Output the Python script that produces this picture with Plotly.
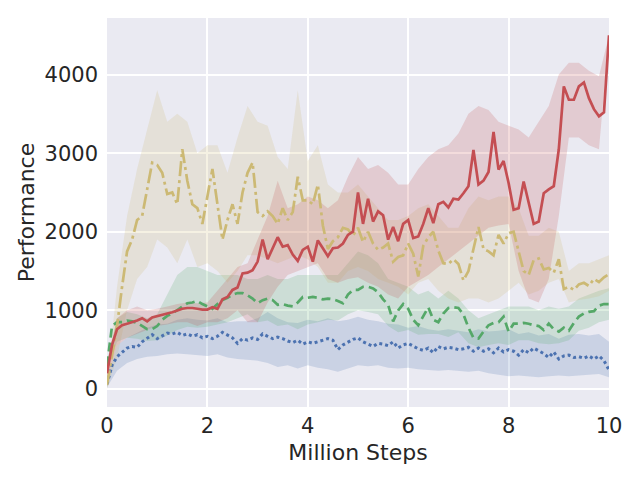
import plotly.graph_objects as go

# ---------------- data ----------------
STEPS = [i / 10 for i in range(101)]          # million steps, mean curves
BAND_STEPS = [i / 5 for i in range(51)]       # million steps, shaded bands

red_mean = [200, 560, 760, 810, 830, 850, 870, 900, 860, 910,
            930, 945, 960, 975, 1000, 1020, 1030, 1030, 1020, 1010,
            1010, 1040, 1020, 1140, 1170, 1260, 1290, 1470, 1480, 1510,
            1620, 1900, 1650, 1790, 1930, 1810, 1830, 1710, 1630, 1770,
            1810, 1620, 1890, 1790, 1690, 1790, 1800, 1850, 1960, 2000,
            2500, 2100, 2420, 2130, 2260, 2210, 1900, 2060, 1880, 2100,
            2150, 1920, 1940, 2100, 2300, 2110, 2350, 2380, 2310, 2420,
            2410, 2490, 2580, 3040, 2600, 2650, 2760, 3270, 2790, 2900,
            2620, 2280, 2300, 2640, 2360, 2100, 2130, 2490, 2540, 2580,
            3050, 3850, 3680, 3680, 3850, 3900, 3700, 3560, 3470, 3520,
            4500]
red_upper = [300, 900, 1000, 1050, 1000, 1020, 1050, 1080, 1100, 1090,
             1100, 1250, 1400, 1550, 1600, 1900, 2200, 2650, 2300, 2350,
             2450, 2400, 2300, 2400, 2700, 2950, 2800, 2850, 2750, 2600,
             2600, 2800, 2950, 3050, 3100, 3250, 3500, 3600, 3550, 3400,
             3350, 3300, 3200, 3400, 3600, 4000, 4150, 4150, 4050, 3980,
             4500]
red_lower = [100, 550, 650, 700, 750, 800, 820, 850, 850, 800,
             850, 850, 900, 1000, 850, 850, 1100, 1300, 1450, 1500,
             1550, 1600, 1400, 1350, 1400, 1420, 1350, 1300, 1200, 1150,
             1300, 1380, 1450, 1550, 1650, 1750, 1850, 1950, 2050, 2080,
             2100, 1500, 1150, 1100, 1400, 2200, 3200, 3200, 3100, 3050,
             4500]

yellow_mean = [50, 400, 800, 1300, 1750, 1900, 2150, 2200, 2550, 2880,
               2850, 2750, 2480, 2500, 2350, 3050, 2650, 2350, 2300, 2100,
               2450, 2800, 2350, 1900, 2150, 2350, 2100, 2500, 2750, 2880,
               2250, 2200, 2260, 2200, 2100, 2300, 2150, 2250, 2700, 2400,
               2400, 2350, 2600, 2080, 1780, 1880, 1930, 2050, 2030, 1950,
               2050, 1870, 2000, 1850, 1770, 1800, 1850, 1620, 1680, 1700,
               1850, 1720, 1430, 1820, 1930, 2000, 1760, 1600, 1590, 1650,
               1590, 1380, 1500, 1800, 2060, 1780, 1750, 1700, 1960, 1850,
               1980, 2000, 1750, 1500, 1450, 1640, 1660, 1520, 1540, 1480,
               1650, 1270, 1300, 1260, 1330, 1350, 1310, 1400, 1360, 1420,
               1460]
yellow_upper = [100, 1300, 2200, 2800, 3300, 3800, 3400, 3500, 3400, 3000,
                3100, 3100, 2750, 3200, 3600, 3400, 3350, 2950, 2800, 3800,
                2900, 3100, 2600, 2500, 2500, 2600, 2450, 2300, 2150, 2150,
                2200, 2300, 2350, 2200, 2050, 2050, 2300, 2450, 2400, 2450,
                2450, 2300, 1950, 1950, 2050, 2000, 1500, 1600, 1600, 1650,
                1700]
yellow_lower = [0, 400, 1000, 1400, 1550, 1900, 1800, 1600, 1900, 1550,
                1600, 1500, 1350, 1500, 1700, 1700, 1650, 1600, 1650, 1700,
                1650, 1550, 1350, 1350, 1500, 1550, 1500, 1400, 1350, 1300,
                1200, 1350, 1400, 1250, 1150, 1100, 1150, 1150, 1100, 1150,
                1250, 1350, 1200, 1250, 1350, 1400, 1100, 1130, 1150, 1180,
                1250]

green_mean = [300, 800, 850, 850, 870, 860, 840, 800, 760, 760,
              800, 880, 930, 960, 1000, 1040, 1090, 1100, 1120, 1080,
              1050, 1020, 1080, 1130, 1160, 1200, 1220, 1220, 1190, 1150,
              1090, 1130, 1150, 1130, 1070, 1080, 1060, 1050, 1100, 1170,
              1160, 1170, 1160, 1140, 1150, 1140, 1120, 1090, 1200, 1260,
              1260, 1300, 1300, 1280, 1230, 1140, 1070, 860, 1000, 1080,
              1020, 880, 810, 920, 1040, 880, 850, 960, 1030, 1040,
              1030, 950, 780, 650, 640, 730, 810, 840, 850, 920,
              730, 830, 830, 840, 830, 810, 800, 750, 830, 760,
              730, 780, 740, 840, 920, 960, 980, 990, 1060, 1080,
              1080]
green_upper = [350, 900, 980, 950, 900, 950, 1200, 1450, 1550, 1550,
               1500, 1450, 1450, 1450, 1400, 1400, 1450, 1400, 1400, 1450,
               1450, 1450, 1450, 1450, 1600, 1750, 1700, 1600, 1400, 1350,
               1300, 1200, 1250, 1150, 1250, 1150, 1000, 900, 950, 1000,
               1050, 1050, 1050, 1000, 1050, 1020, 1050, 1150, 1200, 1250,
               1280]
green_lower = [250, 600, 650, 640, 610, 620, 680, 750, 790, 780,
               790, 820, 850, 900, 950, 850, 870, 800, 820, 760,
               820, 850, 880, 870, 950, 1000, 980, 950, 800, 720,
               750, 690, 700, 700, 660, 720, 580, 530, 560, 580,
               560, 620, 620, 580, 570, 580, 620, 740, 780, 850,
               880]

blue_mean = [60, 300, 410, 470, 520, 540, 530, 600, 650, 690,
             640, 680, 710, 700, 720, 680, 700, 670, 690, 650,
             670, 640, 670, 720, 690, 650, 580, 640, 620, 650,
             630, 700, 670, 640, 660, 640, 610, 590, 620, 570,
             600, 580, 600, 620, 640, 620, 500, 560, 600, 630,
             650, 600, 570, 540, 580, 570, 550, 600, 520, 560,
             580, 540, 510, 490, 520, 460, 540, 510, 530, 520,
             500, 510, 530, 480, 520, 480, 510, 460, 520, 470,
             500, 480, 430, 500, 460, 520, 490, 450, 400, 470,
             380, 420, 430, 400, 410, 390, 420, 380, 420, 360,
             240]
blue_upper = [100, 550, 650, 720, 780, 820, 830, 880, 900, 880,
              870, 900, 850, 860, 860, 900, 980, 900, 850, 840,
              880, 860, 900, 860, 880, 920, 880, 860, 830, 820,
              780, 800, 760, 740, 760, 740, 720, 760, 730, 740,
              760, 700, 720, 680, 700, 640, 690, 700, 680, 700,
              600]
blue_lower = [20, 230, 330, 380, 410, 420, 440, 450, 440, 430,
              420, 440, 400, 380, 370, 360, 330, 280, 300, 260,
              300, 270, 250, 220, 260, 300, 290, 300, 270, 260,
              270, 250, 240, 230, 240, 230, 220, 230, 200, 180,
              160, 170, 160, 150, 160, 170, 160, 170, 180, 190,
              150]

X_TICKS = [0, 2, 4, 6, 8, 10]
Y_TICKS = [0, 1000, 2000, 3000, 4000]
X_LABEL = "Million Steps"
Y_LABEL = "Performance"

# ---------------- styling ----------------
series = [
    # name, mean, lower, upper, colour rgb, dash, width
    ("blue", blue_mean, blue_lower, blue_upper, (76, 114, 176), "3px,3px", 3),
    ("green", green_mean, green_lower, green_upper, (85, 168, 104), "9px,5px", 2.7),
    ("yellow", yellow_mean, yellow_lower, yellow_upper, (204, 185, 116), "15px,4px,3px,4px", 2.7),
    ("red", red_mean, red_lower, red_upper, (196, 78, 82), "solid", 2.7),
]

fig = go.Figure()

# shaded bands first
for name, mean, lo, hi, rgb, dash, w in series:
    fill = "rgba(%d,%d,%d,0.2)" % rgb
    fig.add_trace(go.Scatter(x=BAND_STEPS, y=lo, mode="lines",
                             line=dict(width=0, color=fill),
                             showlegend=False, hoverinfo="skip"))
    fig.add_trace(go.Scatter(x=BAND_STEPS, y=hi, mode="lines",
                             line=dict(width=0, color=fill),
                             fill="tonexty", fillcolor=fill,
                             showlegend=False, hoverinfo="skip"))

# mean curves on top
for name, mean, lo, hi, rgb, dash, w in series:
    fig.add_trace(go.Scatter(x=STEPS, y=mean, mode="lines", name=name,
                             line=dict(color="rgb(%d,%d,%d)" % rgb, width=w, dash=dash),
                             showlegend=False))

axis_common = dict(
    showgrid=True, gridcolor="white", gridwidth=1.5,
    zeroline=False, showline=False, ticks="",
    tickfont=dict(family="DejaVu Sans", size=21, color="#262626"),
)

# page body has an 8px default margin, so the figure is sized to fit the 640x480 window
fig.update_layout(
    width=632, height=472,
    margin=dict(l=99, r=31, t=10, b=73, autoexpand=False),
    paper_bgcolor="white", plot_bgcolor="#EAEAF2",
    font=dict(family="DejaVu Sans", color="#262626"),
    showlegend=False,
)
fig.update_xaxes(range=[0, 10], tickvals=X_TICKS, ticktext=[str(v) for v in X_TICKS],
                 title=dict(text=X_LABEL, font=dict(size=22, family="DejaVu Sans", color="#262626"), standoff=7),
                 ticklabelstandoff=4, **axis_common)
fig.update_yaxes(range=[-230, 4720], tickvals=Y_TICKS, ticktext=[str(v) for v in Y_TICKS],
                 title=dict(text=Y_LABEL, font=dict(size=22, family="DejaVu Sans", color="#262626"), standoff=3),
                 ticklabelstandoff=8, **axis_common)

fig.write_html("out.html")
